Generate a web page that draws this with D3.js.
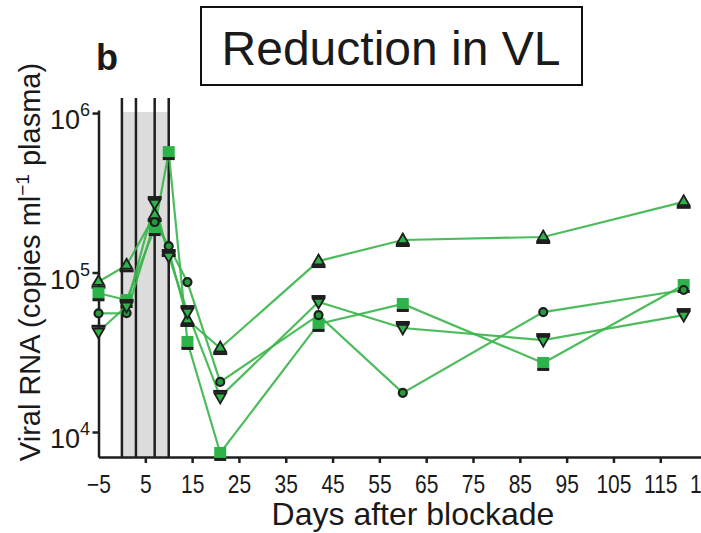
<!DOCTYPE html>
<meta charset="utf-8">
<script src="https://d3js.org/d3.v7.min.js"></script>
<style>
  body { margin: 0; background: #fff; }
  text { font-family: "Liberation Sans", Arial, sans-serif; fill: #1a1a1a; }
</style>
<div id="chart"></div>
<script>
// days of sampling and viral RNA (copies/ml) for each animal
var days = [-5, 1, 7, 10, 14, 21, 42, 60, 90, 120];
var triUp = [87600, 111000, 229300, 138400, 50400, 33600, 118000, 159900, 167000, 277600];
var square = [74100, 67200, 190100, 569000, 36700, 7390, 47600, 63500, 27100, 83500];
var circle = [55500, 55700, 207300, 146600, 87100, 20600, 54100, 17600, 56500, 77700];
var triDown = [42500, 61700, 272700, 126900, 56500, 16600, 65300, 44900, 37700, 54100];

var treatDays = [0, 3, 7, 10];
var xTicks = [-5, 5, 15, 25, 35, 45, 55, 65, 75, 85, 95, 105, 115, 125];
var xTickLabels = ['\u22125', '5', '15', '25', '35', '45', '55', '65', '75', '85', '95', '105', '115', '125'];
var yTicks = [1e4, 1e5, 1e6];
var yTickExp = ['4', '5', '6'];

var width = 701, height = 533;
var green = '#2eb24a', dark = '#1e1e1e';

var svg = d3.select('#chart').append('svg')
    .attr('width', width)
    .attr('height', height);

var x = d3.scaleLinear().domain([-5, 123.7]).range([98.5, 701]);
var y = d3.scaleLog().domain([6970, 1.045e6]).range([457, 110]);

// treatment window
svg.append('rect')
    .attr('x', x(treatDays[0]))
    .attr('y', y(1e6) - 1)
    .attr('width', x(treatDays[3]) - x(treatDays[0]))
    .attr('height', y.range()[0] - y(1e6) + 1)
    .attr('fill', '#dcdcdc');

svg.selectAll('.treat').data(treatDays)
    .enter().append('line')
    .attr('x1', d => x(d)).attr('x2', d => x(d))
    .attr('y1', 98).attr('y2', 457)
    .attr('stroke', dark).attr('stroke-width', 2.5);

// axes
var xAxis = svg.append('g')
    .attr('transform', 'translate(0,457)')
    .call(d3.axisBottom(x).tickValues(xTicks).tickSize(6).tickSizeOuter(0)
        .tickFormat((d, i) => xTickLabels[i]));
xAxis.select('.domain').attr('stroke', dark).attr('stroke-width', 2.5);
xAxis.selectAll('.tick line').attr('stroke', dark).attr('stroke-width', 2.5)
    .attr('opacity', (d, i) => i === 0 ? 0 : 1);
// labels in the original are a little taller than wide
xAxis.selectAll('.tick text')
    .attr('font-size', 21).attr('dy', 0).attr('y', 30)
    .attr('transform', 'scale(1,1.2)')
    .attr('fill', '#1a1a1a')
    .attr('font-family', '"Liberation Sans", Arial, sans-serif');

var yAxis = svg.append('g')
    .attr('transform', 'translate(98.5,0)')
    .call(d3.axisLeft(y).tickValues(yTicks).tickSize(6).tickSizeOuter(0).tickFormat(''));
yAxis.select('.domain').attr('stroke', dark).attr('stroke-width', 2.5);
yAxis.selectAll('.tick line').attr('stroke', dark).attr('stroke-width', 2.5);

yTicks.forEach(function(v, i) {
    var t = svg.append('text')
        .attr('x', 90).attr('y', y(v) + 16)
        .attr('text-anchor', 'end')
        .attr('font-size', 27);
    t.append('tspan').text('10');
    t.append('tspan').text(yTickExp[i]).attr('font-size', 18).attr('dy', -13);
});

// axis titles
svg.append('text')
    .attr('x', 413).attr('y', 525)
    .attr('text-anchor', 'middle')
    .attr('font-size', 32)
    .text('Days after blockade');

var yt = svg.append('text')
    .attr('transform', 'translate(40,262) rotate(-90)')
    .attr('text-anchor', 'middle')
    .attr('font-size', 29);
yt.append('tspan').text('Viral RNA (copies ml');
yt.append('tspan').text('\u22121').attr('font-size', 19).attr('dy', -11);
yt.append('tspan').text(' plasma)').attr('dy', 11);

// panel letter and title box
svg.append('text')
    .attr('x', 96).attr('y', 70)
    .attr('font-size', 36).attr('font-weight', 'bold')
    .text('b');

svg.append('rect')
    .attr('x', 201).attr('y', 7)
    .attr('width', 381).attr('height', 78)
    .attr('fill', 'none').attr('stroke', '#111').attr('stroke-width', 2);
svg.append('text')
    .attr('x', 391).attr('y', 65)
    .attr('text-anchor', 'middle')
    .attr('font-size', 48)
    .text('Reduction in VL');

// lines
var series = [
    {name: 'triUp', values: triUp},
    {name: 'square', values: square},
    {name: 'circle', values: circle},
    {name: 'triDown', values: triDown}
];

var line = d3.line()
    .x((d, i) => x(days[i]))
    .y(d => y(d));

svg.selectAll('.series').data(series)
    .enter().append('path')
    .attr('d', d => line(d.values))
    .attr('fill', 'none')
    .attr('stroke', '#3ab54a')
    .attr('stroke-width', 2.2)
    .attr('opacity', 0.9);

// markers
var triPath = d3.symbol(d3.symbolTriangle, 55)();
var circPath = d3.symbol(d3.symbolCircle, 50)();
var sqPath = d3.symbol(d3.symbolSquare, 144)();

series.forEach(function(s) {
    var g = svg.selectAll('.m-' + s.name).data(s.values)
        .enter().append('g')
        .attr('transform', (d, i) => 'translate(' + x(days[i]) + ',' + y(d) + ')');
    if (s.name === 'triUp') {
        g.append('path').attr('d', triPath).attr('fill', green).attr('stroke', dark).attr('stroke-width', 1.8);
        g.append('rect').attr('x', -7).attr('y', 4).attr('width', 14).attr('height', 3).attr('fill', dark);
    } else if (s.name === 'triDown') {
        g.append('path').attr('d', triPath).attr('transform', 'rotate(180)')
            .attr('fill', green).attr('stroke', dark).attr('stroke-width', 1.8);
        g.append('rect').attr('x', -7).attr('y', -7).attr('width', 14).attr('height', 3).attr('fill', dark);
    } else if (s.name === 'circle') {
        g.append('path').attr('d', circPath).attr('fill', '#279a3f').attr('stroke', dark).attr('stroke-width', 2.2);
    } else {
        g.append('path').attr('d', sqPath).attr('fill', green);
        g.append('rect').attr('x', -6).attr('y', 5).attr('width', 12).attr('height', 3).attr('fill', dark);
    }
});
</script>
